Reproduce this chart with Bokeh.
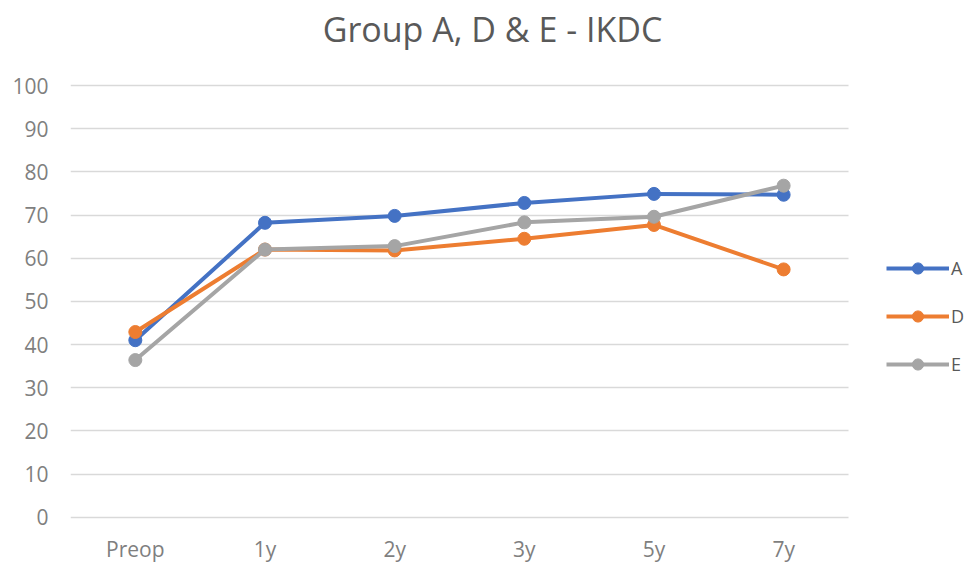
from bokeh.plotting import figure
from bokeh.models import Legend, LegendItem, Range1d, FixedTicker, Label
from bokeh.embed import file_html
from bokeh.resources import INLINE

# IKDC scores per follow-up visit
visits = ["Preop", "1y", "2y", "3y", "5y", "7y"]
group_a = [41.0, 68.2, 69.8, 72.8, 74.9, 74.7]
group_d = [42.9, 62.0, 61.8, 64.5, 67.7, 57.4]
group_e = [36.4, 62.0, 62.8, 68.3, 69.6, 76.8]
y_ticks = list(range(0, 101, 10))

FONT = "Open Sans"
TEXT_GREY = "#7f7f7f"

# each visit sits in the middle of a unit-wide slot; the strip right of the
# last slot holds the legend, the band above 100 holds the title
x_pos = [i + 0.5 for i in range(len(visits))]
n_slots = len(visits)

p = figure(
    width=967, height=565,
    x_range=Range1d(0, 6.918),
    y_range=Range1d(-1, 119.7),
    output_backend="svg", toolbar_location=None,
    min_border_left=70, min_border_right=0,
    min_border_top=0, min_border_bottom=42,
)
p.outline_line_color = None
p.background_fill_color = "white"
p.border_fill_color = "white"

# axes: labels only, no lines or ticks
for ax in (p.xaxis[0], p.yaxis[0]):
    ax.axis_line_color = None
    ax.major_tick_line_color = None
    ax.minor_tick_line_color = None
    ax.major_tick_out = 0
    ax.major_tick_in = 0
    ax.major_label_text_font = FONT
    ax.major_label_text_color = TEXT_GREY
    ax.major_label_text_font_size = "21px"
p.yaxis[0].ticker = FixedTicker(ticks=y_ticks, minor_ticks=[])
p.yaxis[0].major_label_standoff = 22
p.xaxis[0].ticker = FixedTicker(ticks=x_pos, minor_ticks=[])
p.xaxis[0].major_label_overrides = {x: name for x, name in zip(x_pos, visits)}
p.xaxis[0].major_label_standoff = 13

p.xgrid.grid_line_color = None
p.ygrid.grid_line_color = "#d9d9d9"
p.ygrid.grid_line_width = 1.5
p.ygrid.cross_bounds = (0, n_slots)

series = [("A", group_a, "#4472C4"), ("D", group_d, "#ED7D31"), ("E", group_e, "#A5A5A5")]
items = []
for name, vals, color in series:
    ln = p.line(x_pos, vals, line_color=color, line_width=4)
    mk = p.scatter(x_pos, vals, size=13, fill_color=color, line_color=color)
    items.append(LegendItem(label=name, renderers=[ln, mk]))

legend = Legend(
    items=items, location=(816, 143),
    glyph_width=63, glyph_height=28, label_standoff=2, spacing=20,
    label_text_font=FONT, label_text_font_size="18px", label_text_color="#595959",
    border_line_color=None, background_fill_alpha=0, padding=0, margin=0,
)
p.add_layout(legend)

title = Label(
    x=422, y=493, x_units="screen", y_units="screen",
    text="Group A, D & E - IKDC", text_font=FONT, text_font_size="34px",
    text_color="#595959", text_align="center", text_baseline="middle",
)
p.add_layout(title)

open("out.html", "w").write(file_html(p, INLINE))
